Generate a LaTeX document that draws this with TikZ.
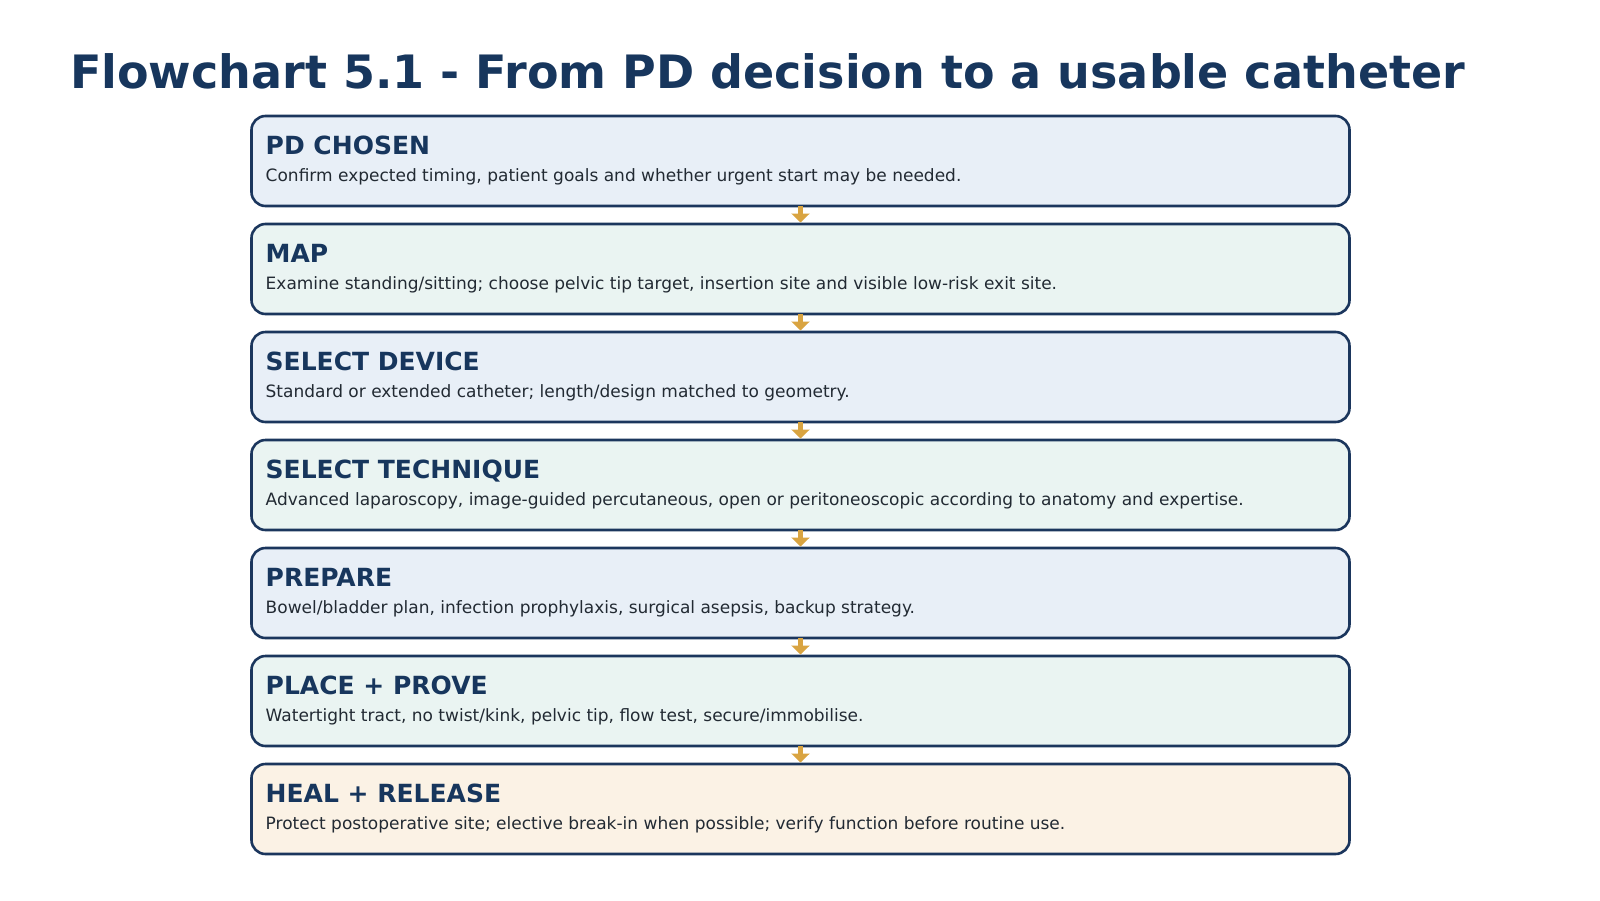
\documentclass[tikz,border=0pt]{standalone}
\usepackage{fontspec}
\setmainfont{DejaVu Sans}
\usetikzlibrary{arrows.meta}
\definecolor{navy}{HTML}{17365D}
\definecolor{edge}{HTML}{1B365D}
\definecolor{bodytxt}{HTML}{222A33}
\definecolor{fblue}{HTML}{E8EFF7}
\definecolor{fteal}{HTML}{EAF4F2}
\definecolor{fcream}{HTML}{FBF2E5}
\definecolor{gold}{HTML}{D9A441}
\tikzset{
  stepbox/.style={draw=edge, line width=2.6pt, rounded corners=14pt, minimum width=1098pt, minimum height=90pt, inner sep=0pt, outer sep=0pt, anchor=north west},
  headtxt/.style={anchor=base west, inner sep=0pt, text=navy, font=\fontsize{25}{30}\selectfont\bfseries},
  bodytext/.style={anchor=base west, inner sep=0pt, text=bodytxt, font=\fontsize{17}{21}\selectfont},
  flowarrow/.style={draw=gold, line width=4.6pt, -{Triangle[width=18pt,length=9pt]}, shorten >=1.5pt}
}
\begin{document}
\begin{tikzpicture}[x=1pt,y=-1pt]
\useasboundingbox[fill=white] (0,0) rectangle (1600,900);
\node[anchor=base west, inner sep=0pt, text=navy, font=\fontsize{46}{56}\selectfont\bfseries] (title) at (70,88.3) {Flowchart 5.1 - From PD decision to a usable catheter};

\node[stepbox, fill=fblue] (b1) at (251.5,116) {};
\node[stepbox, fill=fteal] (b2) at (251.5,224) {};
\node[stepbox, fill=fblue] (b3) at (251.5,332) {};
\node[stepbox, fill=fteal] (b4) at (251.5,440) {};
\node[stepbox, fill=fblue] (b5) at (251.5,548) {};
\node[stepbox, fill=fteal] (b6) at (251.5,656) {};
\node[stepbox, fill=fcream] (b7) at (251.5,764) {};

\node[headtxt] (h1) at (265.5,154.3) {PD CHOSEN};
\node[bodytext] (t1) at (265.5,181.7) {Confirm expected timing, patient goals and whether urgent start may be needed.};
\node[headtxt] (h2) at (265.5,262.3) {MAP};
\node[bodytext] (t2) at (265.5,289.7) {Examine standing/sitting; choose pelvic tip target, insertion site and visible low-risk exit site.};
\node[headtxt] (h3) at (265.5,370.3) {SELECT DEVICE};
\node[bodytext] (t3) at (265.5,397.7) {Standard or extended catheter; length/design matched to geometry.};
\node[headtxt] (h4) at (265.5,478.3) {SELECT TECHNIQUE};
\node[bodytext] (t4) at (265.5,505.7) {Advanced laparoscopy, image-guided percutaneous, open or peritoneoscopic according to anatomy and expertise.};
\node[headtxt] (h5) at (265.5,586.3) {PREPARE};
\node[bodytext] (t5) at (265.5,613.7) {Bowel/bladder plan, infection prophylaxis, surgical asepsis, backup strategy.};
\node[headtxt] (h6) at (265.5,694.3) {PLACE + PROVE};
\node[bodytext] (t6) at (265.5,721.7) {Watertight tract, no twist/kink, pelvic tip, flow test, secure/immobilise.};
\node[headtxt] (h7) at (265.5,802.3) {HEAL + RELEASE};
\node[bodytext] (t7) at (265.5,829.7) {Protect postoperative site; elective break-in when possible; verify function before routine use.};

\draw[flowarrow] (b1.south) -- (b2.north);
\draw[flowarrow] (b2.south) -- (b3.north);
\draw[flowarrow] (b3.south) -- (b4.north);
\draw[flowarrow] (b4.south) -- (b5.north);
\draw[flowarrow] (b5.south) -- (b6.north);
\draw[flowarrow] (b6.south) -- (b7.north);
\end{tikzpicture}
\end{document}
